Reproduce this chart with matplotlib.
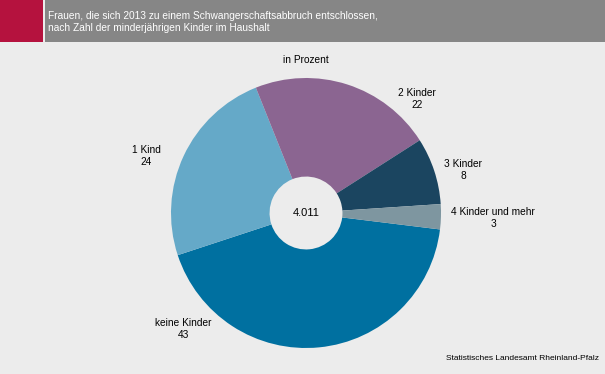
import matplotlib
matplotlib.use("Agg")
import matplotlib.pyplot as plt
from matplotlib.patches import Rectangle

plt.rcParams['font.family'] = ['Liberation Sans', 'DejaVu Sans']

categories = ["keine Kinder", "1 Kind", "2 Kinder", "3 Kinder", "4 Kinder und mehr"]
values = [43, 24, 22, 8, 3]
colors = ["#0070a0", "#65a9c8", "#8b6591", "#1b4560", "#7e96a0"]
total = "4.011"
title = ("Frauen, die sich 2013 zu einem Schwangerschaftsabbruch entschlossen,\n"
         "nach Zahl der minderjährigen Kinder im Haushalt")
unit = "in Prozent"
source = "Statistisches Landesamt Rheinland-Pfalz"

W, H = 605, 374
fig = plt.figure(figsize=(W / 100, H / 100), dpi=100)
fig.patch.set_facecolor("#ececec")

# header
fig.patches.append(Rectangle((0, 1 - 42 / H), 43 / W, 42 / H, transform=fig.transFigure,
                             facecolor="#b5123e", edgecolor="none"))
fig.patches.append(Rectangle((45 / W, 1 - 42 / H), 1 - 45 / W, 42 / H, transform=fig.transFigure,
                             facecolor="#868686", edgecolor="none"))
fig.text(48 / W, 1 - 22 / H, title, color="white", fontsize=7.3, va="center", ha="left",
         linespacing=1.3)

# pie
cx, cy, r = 306, 213, 135
ax = fig.add_axes([(cx - r) / W, (H - cy - r) / H, 2 * r / W, 2 * r / H])
ax.set_facecolor("none")
ax.pie(values, colors=colors, startangle=-7, counterclock=False, radius=1,
       wedgeprops=dict(width=0.73, edgecolor="none"))
ax.set_xlim(-1, 1)
ax.set_ylim(-1, 1)
ax.set_aspect("equal")
ax.axis("off")
ax.text(0, 0, total, ha="center", va="center", fontsize=8)

# labels (pixel positions of label centres)
label_pos = [(183, 329), (146, 156), (417, 99), (463, 170), (493, 218)]
for cat, v, (px, py) in zip(categories, values, label_pos):
    fig.text(px / W, 1 - py / H, f"{cat}\n{v}", ha="center", va="center", fontsize=7.3,
             linespacing=1.2)

fig.text(306 / W, 1 - 60 / H, unit, ha="center", va="center", fontsize=7.3)
fig.text(599 / W, 1 - 358 / H, source, ha="right", va="center", fontsize=6.0)

fig.savefig("out.png", dpi=100, facecolor=fig.get_facecolor())
